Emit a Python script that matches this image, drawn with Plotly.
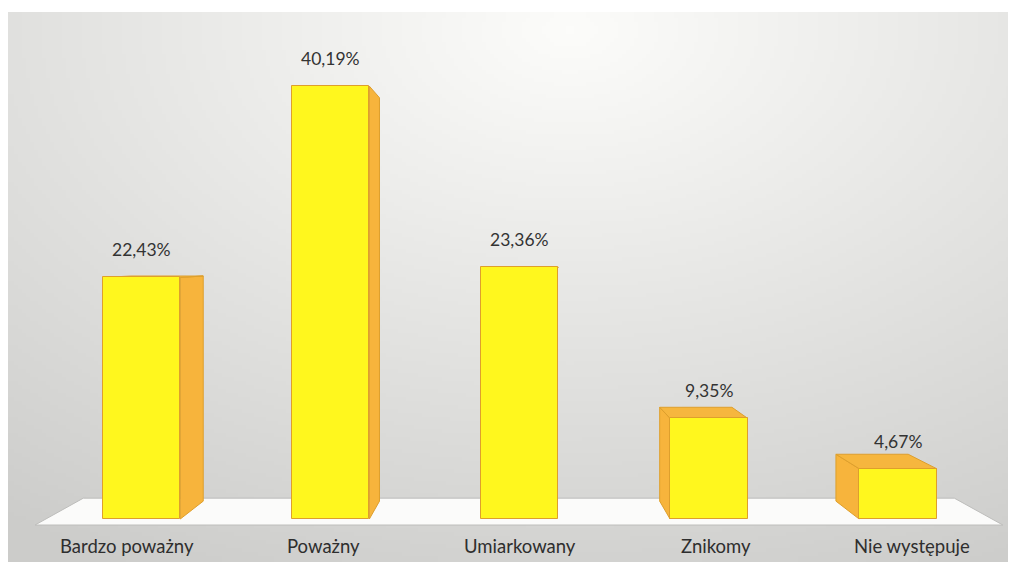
import base64
import struct
import zlib
import math
import plotly.graph_objects as go

# ---------------- data ----------------
categories = ["Bardzo poważny", "Poważny", "Umiarkowany", "Znikomy", "Nie występuje"]
values = [22.43, 40.19, 23.36, 9.35, 4.67]
value_labels = ["22,43%", "40,19%", "23,36%", "9,35%", "4,67%"]

# ---------------- style / camera ----------------
# the page body keeps an 8px margin, so the figure covers page pixels 8..1016 x 8..562
W, H = 1008, 554
OFF = 8
X_RANGE = [-0.706, 4.6245]
Y_RANGE = [-3.993, 47.45]
BAR_W = 0.41
VPX, VPY = 1.99, 24.4          # vanishing point (data coords)
DEPTH = 0.068                  # bar depth factor
FLOOR_DEPTH = 0.10
LABEL_SPREAD = 1.038

FRONT = "#FFF71E"
SIDE = "#F7B43C"
TOP = "#F6B63E"
EDGE = "#DE9F2C"
FONT = "Lato"


def back(x, y, f):
    k = 1.0 - f
    return VPX + k * (x - VPX), VPY + k * (y - VPY)


def path(pts):
    return "M " + " L ".join(f"{x:.4f},{y:.4f}" for x, y in pts) + " Z"


# ---------------- background gradient image ----------------
def png_uri(w, h, fn):
    raw = bytearray()
    for j in range(h):
        raw.append(0)
        for i in range(w):
            raw += bytes(fn(i, j))

    def chunk(t, d):
        c = struct.pack(">I", len(d)) + t + d
        return c + struct.pack(">I", zlib.crc32(t + d) & 0xFFFFFFFF)

    png = (b"\x89PNG\r\n\x1a\n"
           + chunk(b"IHDR", struct.pack(">IIBBBBB", w, h, 8, 2, 0, 0, 0))
           + chunk(b"IDAT", zlib.compress(bytes(raw), 9))
           + chunk(b"IEND", b""))
    return "data:image/png;base64," + base64.b64encode(png).decode()


BG_TOP = 4   # figure px where the grey panel starts (page y = 12)
IW, IH = 252, 138


def bg_pixel(i, j):
    px = OFF + (i + 0.5) * W / IW
    py = OFF + BG_TOP + (j + 0.5) * (H - BG_TOP) / IH
    dx = (px - 570) / 760.0
    dy = (py - 30) / 480.0
    r = math.sqrt(dx * dx + dy * dy)
    c = 252 - 38 * r
    c = max(204, min(252, c))
    g = int(round(c))
    return (g, g, max(0, g - 2))


bg_uri = png_uri(IW, IH, bg_pixel)

# ---------------- shapes (floor + 3D faces) ----------------
shapes = []
fl_x0, fl_x1, fl_y = -0.563, 4.555, -0.56
floor_pts = [(fl_x0, fl_y), (fl_x1, fl_y), back(fl_x1, fl_y, FLOOR_DEPTH), back(fl_x0, fl_y, FLOOR_DEPTH)]
shapes.append(dict(type="path", xref="x", yref="y", path=path(floor_pts),
                   fillcolor="#FBFBFA", line=dict(color="#BDBDBB", width=1), layer="below"))

for i, v in enumerate(values):
    x0, x1 = i - BAR_W / 2, i + BAR_W / 2
    if x1 < VPX:
        pts = [(x1, 0), (x1, v), back(x1, v, DEPTH), back(x1, 0, DEPTH)]
        shapes.append(dict(type="path", xref="x", yref="y", path=path(pts),
                           fillcolor=SIDE, line=dict(color=EDGE, width=1), layer="below"))
    if x0 > VPX:
        pts = [(x0, 0), (x0, v), back(x0, v, DEPTH), back(x0, 0, DEPTH)]
        shapes.append(dict(type="path", xref="x", yref="y", path=path(pts),
                           fillcolor=SIDE, line=dict(color=EDGE, width=1), layer="below"))
    if v < VPY:
        pts = [(x0, v), (x1, v), back(x1, v, DEPTH), back(x0, v, DEPTH)]
        shapes.append(dict(type="path", xref="x", yref="y", path=path(pts),
                           fillcolor=TOP, line=dict(color=EDGE, width=1), layer="below"))

# ---------------- figure ----------------
fig = go.Figure()
fig.add_trace(go.Bar(
    x=list(range(len(categories))), y=values, width=BAR_W,
    marker=dict(color=FRONT, line=dict(color=EDGE, width=1)),
    hovertext=categories, hoverinfo="text+y", showlegend=False,
))

annotations = []
for i, (v, lab) in enumerate(zip(values, value_labels)):
    annotations.append(dict(x=i, y=v, xref="x", yref="y", text=lab, showarrow=False,
                            yanchor="bottom", yshift=15,
                            font=dict(family=FONT, size=17.5, color="#333333")))
for i, cat in enumerate(categories):
    annotations.append(dict(x=VPX + LABEL_SPREAD * (i - VPX), y=-2.55, xref="x", yref="y",
                            text=cat, showarrow=False, yanchor="middle",
                            font=dict(family=FONT, size=18.5, color="#2e2e2e")))

fig.update_layout(
    width=W, height=H,
    margin=dict(l=0, r=0, t=0, b=0, pad=0),
    paper_bgcolor="white", plot_bgcolor="rgba(0,0,0,0)",
    xaxis=dict(range=X_RANGE, visible=False, fixedrange=True),
    yaxis=dict(range=Y_RANGE, visible=False, fixedrange=True),
    shapes=shapes, annotations=annotations,
    images=[dict(source=bg_uri, xref="paper", yref="paper",
                 x=0, y=1 - BG_TOP / H, sizex=1, sizey=(H - BG_TOP) / H,
                 xanchor="left", yanchor="top", sizing="stretch", layer="below")],
    bargap=0, showlegend=False,
)

fig.write_html("out.html")
